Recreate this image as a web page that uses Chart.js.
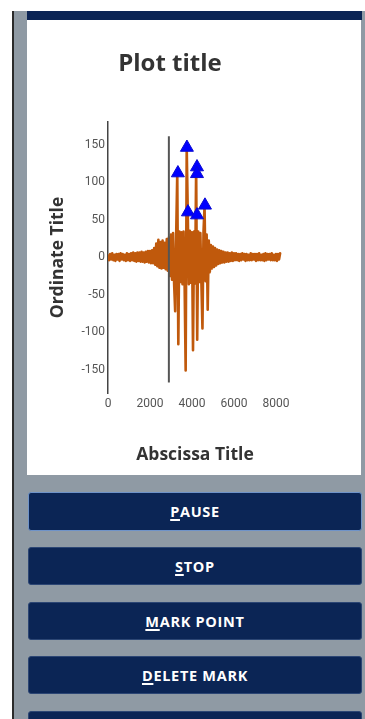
<!DOCTYPE html>
<html>
<head>
<meta charset="utf-8">
<script src="https://cdn.jsdelivr.net/npm/chart.js@4.4.1/dist/chart.umd.min.js"></script>
<style>
  html, body { margin: 0; padding: 0; background: #ffffff; width: 365px; height: 719px; overflow: hidden; }
  #gray { position: absolute; left: 13px; top: 11px; width: 352px; height: 708px; background: #8f9aa4; }
  #edge { position: absolute; left: 12px; top: 11px; width: 1.5px; height: 708px; background: #2b2b2b; }
  #bar { position: absolute; left: 27px; top: 11px; width: 335px; height: 9px; background: #0b2454; }
  #panel { position: absolute; left: 27px; top: 20px; width: 334px; height: 455px; background: #ffffff; }
  #panel canvas { display: block; }
  .btn { position: absolute; left: 28px; width: 334px; height: 38px; background: #0b2555; color: #ffffff;
         border-radius: 3px; box-sizing: border-box; border: 1px solid #2c4674;
         font-family: "Open Sans", sans-serif; font-weight: 700; font-size: 14.5px;
         display: flex; align-items: center; justify-content: center; letter-spacing: 0.7px; }
  .btn u { text-decoration-thickness: 1.5px; text-underline-offset: 2px; }
  #b1 { top: 492px; height: 39px; border: 1px solid #6f93c8; }
  #b2 { top: 547px; }
  #b3 { top: 602px; }
  #b4 { top: 656px; }
  #b5 { top: 711px; }
</style>
</head>
<body>
<div id="gray"></div>
<div id="edge"></div>
<div id="bar"></div>
<div id="panel"><canvas id="c" width="334" height="455"></canvas></div>
<div class="btn" id="b1"><span><u>P</u>AUSE</span></div>
<div class="btn" id="b2"><span><u>S</u>TOP</span></div>
<div class="btn" id="b3"><span><u>M</u>ARK POINT</span></div>
<div class="btn" id="b4"><span><u>D</u>ELETE MARK</span></div>
<div class="btn" id="b5"></div>
<script>
// ---- data ----
const sampleStep = 50; // abscissa units between samples
const waveValues = [
  2, -4, 4, -3, 5, -4, 3, -5, 4, -3,
  4, -5, 5, -3, 4, -4, 3, -5, 5, -4,
  4, -5, 5, -4, 6, -5, 5, -6, 6, -5,
  6, -6, 7, -6, 6, -7, 7, -6, 8, -7,
  8, -8, 9, -8, 12, -10, 18, -12, 23, -14,
  20, -15, 22, -14, 19, -16, 24, -18, 26, -25,
  30, -30, 32, -35, -72, 33, 112, -116, 34, -33,
  33, -36, 34, -35, -151, 146, 60, -36, 35, -34,
  33, -124, 34, -35, 120, -110, 34, -33, 32, -34,
  -95, 33, 68, -32, 30, -70, 22, -20, 16, -15,
  14, -13, 12, -11, 10, -9, 9, -8, 8, -7,
  7, -7, 6, -6, 6, -6, 5, -5, 6, -5,
  5, -4, 5, -4, 4, -5, 4, -4, 5, -3,
  4, -5, 4, -4, 3, -4, 5, -4, 4, -3,
  4, -5, 4, -4, 5, -4, 3, -4, 4, -5,
  5, -4, 4, -3, 4, -4, 5, -4, 3, -4,
  4, -5, 4, -3, 5
];
const markerTimes  = [3330, 3760, 4240, 4240, 3810, 4240, 4620];
const markerValues = [112, 146, 120, 111, 60, 56, 69];
const cursorTimes  = [2900, 2900];
const cursorValues = [-167, 161];
const xTickValues = [0, 2000, 4000, 6000, 8000];
const yTickValues = [-150, -100, -50, 0, 50, 100, 150];

const waveData = waveValues.map((v, i) => ({ x: i * sampleStep, y: v }));
const markerData = markerTimes.map((t, i) => ({ x: t, y: markerValues[i] }));
const cursorData = cursorTimes.map((t, i) => ({ x: t, y: cursorValues[i] }));

const titleFont = { family: "Open Sans", size: 17.5, weight: "bold", lineHeight: 1.2 };
const tickFont = { family: "Roboto", size: 12 };

new Chart(document.getElementById('c'), {
  type: 'line',
  data: {
    datasets: [
      { data: markerData, showLine: false, pointStyle: 'triangle', pointRadius: 7.5,
        backgroundColor: '#0000ff', borderColor: '#0a0ad0', borderWidth: 1, order: 0 },
      { data: cursorData, borderColor: '#555555', borderWidth: 2, pointRadius: 0, order: 1 },
      { data: waveData, borderColor: '#c0590c', borderWidth: 2.6, pointRadius: 0, tension: 0,
        borderJoinStyle: 'round', borderCapStyle: 'round', order: 2 }
    ]
  },
  options: {
    responsive: false,
    animation: false,
    layout: { padding: { left: 0, right: 48, top: 0, bottom: 0 } },
    plugins: {
      legend: { display: false },
      tooltip: { enabled: false },
      title: { display: true, text: 'Plot title', color: '#333333',
               font: { family: "Open Sans", size: 24, weight: "bold", lineHeight: 1.2 },
               padding: { top: 29.6, bottom: 43.6 } }
    },
    scales: {
      x: {
        type: 'linear', min: 0, max: 8290,
        grid: { display: false, drawTicks: false },
        border: { display: false },
        afterBuildTicks: (s) => { s.ticks = xTickValues.map(v => ({ value: v })); },
        ticks: { color: '#555555', font: tickFont, padding: 4, maxRotation: 0, autoSkip: false,
                 callback: (v) => String(v) },
        title: { display: true, text: 'Abscissa Title', color: '#333333', font: titleFont, padding: { top: 20, bottom: 9.5 } },
        afterFit: (s) => { s.height = 82; }
      },
      y: {
        type: 'linear', min: -181, max: 180,
        grid: { display: false, drawTicks: false },
        border: { display: true, color: '#444444', width: 1.5 },
        afterBuildTicks: (s) => { s.ticks = yTickValues.map(v => ({ value: v })); },
        ticks: { color: '#555555', font: tickFont, padding: 3, autoSkip: false, callback: (v) => String(v) },
        title: { display: true, text: 'Ordinate Title', color: '#333333', font: titleFont, padding: { top: 20.5, bottom: 4 } },
        afterFit: (s) => { s.width = 81; }
      },
      yRight: {
        position: 'right', display: true,
        grid: { display: false, drawTicks: false },
        border: { display: false },
        ticks: { display: false },
        afterFit: (s) => { s.width = 31; }
      }
    }
  }
});
</script>
</body>
</html>
